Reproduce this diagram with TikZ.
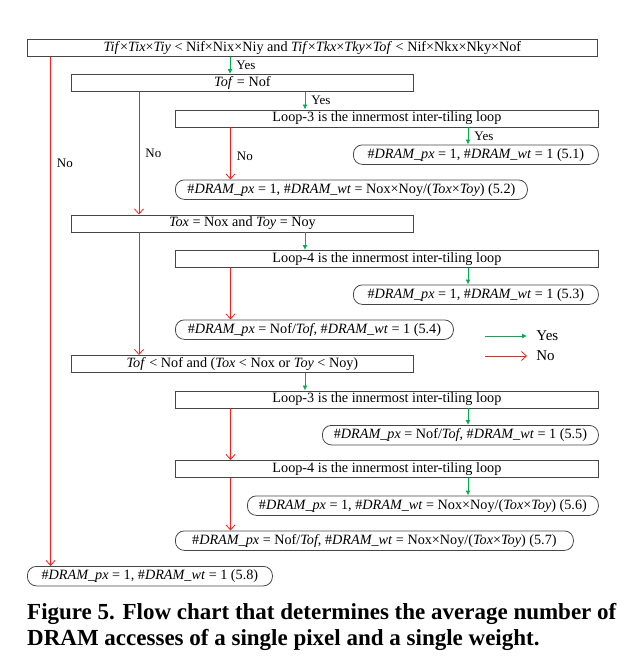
\documentclass[tikz,border=0pt]{standalone}
\usepackage{fontspec}
\setmainfont{Liberation Serif}
\usetikzlibrary{arrows.meta}

\definecolor{yesgreen}{RGB}{0,176,80}
\definecolor{nored}{RGB}{255,30,30}
\definecolor{boxgray}{RGB}{70,70,70}

\newcommand{\dpx}{\#\textit{DRAM\_px}}
\newcommand{\dwt}{\#\textit{DRAM\_wt}}

\tikzset{
  cond/.style={draw=boxgray, line width=0.8pt, anchor=north west,
               inner sep=0pt, font=\fontsize{14.2}{16}\selectfont},
  result/.style={cond, rounded corners=9pt},
  yes/.style={draw=yesgreen, line width=0.9pt, -{Latex[length=5pt,width=5pt]}},
  no/.style={draw=nored, line width=0.8pt, -{Straight Barb[length=5pt,width=9pt]}},
  lbl/.style={anchor=west, inner sep=0pt, xshift=6pt, text=black,
              font=\fontsize{13}{15}\selectfont}
}

\begin{document}
\begin{tikzpicture}[x=1pt, y=-1pt]
    \useasboundingbox (0,0) rectangle (631,664);

    % conditions
    \node[cond, minimum width=570pt, minimum height=17pt] (c1) at (27,39)
        {\textit{Tif}×\textit{Tix}×\textit{Tiy} < Nif×Nix×Niy and \textit{Tif}×\textit{Tkx}×\textit{Tky}×\textit{Tof} < Nif×Nkx×Nky×Nof};
    \node[cond, minimum width=342pt, minimum height=17pt] (c2) at (71,74)
        {\textit{Tof} = Nof};
    \node[cond, minimum width=423pt, minimum height=17pt] (c3) at (175,109.5)
        {Loop-3 is the innermost inter-tiling loop};
    \node[cond, minimum width=342pt, minimum height=17pt] (c4) at (71,214.5)
        {\textit{Tox} = Nox and \textit{Toy} = Noy};
    \node[cond, minimum width=423pt, minimum height=17pt] (c5) at (175,250)
        {Loop-4 is the innermost inter-tiling loop};
    \node[cond, minimum width=342pt, minimum height=17pt] (c6) at (71,355)
        {\textit{Tof} < Nof and (\textit{Tox} < Nox or \textit{Toy} < Noy)};
    \node[cond, minimum width=423pt, minimum height=17pt] (c7) at (175,390.5)
        {Loop-3 is the innermost inter-tiling loop};
    \node[cond, minimum width=423pt, minimum height=17pt] (c8) at (175,460)
        {Loop-4 is the innermost inter-tiling loop};

    % results
    \node[result, minimum width=245pt, minimum height=19.5pt] (r1) at (353,144.5)
        {\dpx{} = 1, \dwt{} = 1 (5.1)};
    \node[result, minimum width=352pt, minimum height=19.5pt] (r2) at (175,179.5)
        {\dpx{} = 1, \dwt{} = Nox×Noy/(\textit{Tox}×\textit{Toy}) (5.2)};
    \node[result, minimum width=245pt, minimum height=19.5pt] (r3) at (353,284.5)
        {\dpx{} = 1, \dwt{} = 1 (5.3)};
    \node[result, minimum width=278pt, minimum height=19.5pt] (r4) at (175,319.5)
        {\dpx{} = Nof/\textit{Tof}, \dwt{} = 1 (5.4)};
    \node[result, minimum width=276pt, minimum height=19.5pt] (r5) at (322,425)
        {\dpx{} = Nof/\textit{Tof}, \dwt{} = 1 (5.5)};
    \node[result, minimum width=351pt, minimum height=19.5pt] (r6) at (247,495.5)
        {\dpx{} = 1, \dwt{} = Nox×Noy/(\textit{Tox}×\textit{Toy}) (5.6)};
    \node[result, minimum width=398pt, minimum height=19.5pt] (r7) at (175,530.5)
        {\dpx{} = Nof/\textit{Tof}, \dwt{} = Nox×Noy/(\textit{Tox}×\textit{Toy}) (5.7)};
    \node[result, minimum width=245pt, minimum height=19.5pt] (r8) at (27,566)
        {\dpx{} = 1, \dwt{} = 1 (5.8)};

    % yes branches
    \draw[yes] (c1.south -| 230,0) -- node[lbl] {Yes} (c2.north -| 230,0);
    \draw[yes] (c2.south -| 305,0) -- node[lbl] {Yes} (c3.north -| 305,0);
    \draw[yes] (c3.south -| 468,0) -- node[lbl] {Yes} (r1.north -| 468,0);
    \draw[yes] (c4.south -| 305,0) -- (c5.north -| 305,0);
    \draw[yes] (c5.south -| 468,0) -- (r3.north -| 468,0);
    \draw[yes] (c6.south -| 305,0) -- (c7.north -| 305,0);
    \draw[yes] (c7.south -| 468,0) -- (r5.north -| 468,0);
    \draw[yes] (c8.south -| 468,0) -- (r6.north -| 468,0);

    % no branches
    \draw[no] (c1.south -| 50.5,0) -- node[lbl, pos=0.21] {No} (r8.north -| 50.5,0);
    \draw[no] (c2.south -| 139,0) -- node[lbl] {No} (c4.north -| 139,0);
    \draw[no] (c3.south -| 230.5,0) -- node[lbl, pos=0.56] {No} (r2.north -| 230.5,0);
    \draw[no] (c4.south -| 139,0) -- (c6.north -| 139,0);
    \draw[no] (c5.south -| 230.5,0) -- (r4.north -| 230.5,0);
    \draw[no] (c7.south -| 230.5,0) -- (c8.north -| 230.5,0);
    \draw[no] (c8.south -| 230.5,0) -- (r7.north -| 230.5,0);

    % legend
    \coordinate (ly1) at (485,336);
    \coordinate (ly2) at (527,336);
    \coordinate (ln1) at (485,356);
    \coordinate (ln2) at (527,356);
    \draw[yes] (ly1) -- (ly2) node[lbl, xshift=3pt, font=\fontsize{15}{17}\selectfont] {Yes};
    \draw[no]  (ln1) -- (ln2) node[lbl, xshift=3pt, font=\fontsize{15}{17}\selectfont] {No};

    % caption
    \node[anchor=north west, inner sep=0pt, align=left,
          font=\fontsize{23}{26}\selectfont\bfseries] (cap) at (27,603)
        {Figure 5. Flow chart that determines the average number of\\
         DRAM accesses of a single pixel and a single weight.};
\end{tikzpicture}
\end{document}
